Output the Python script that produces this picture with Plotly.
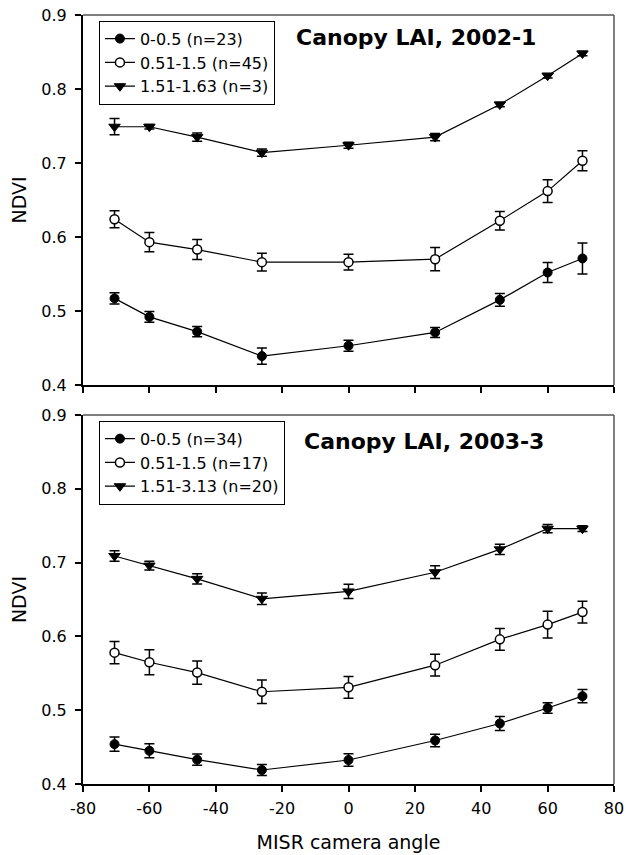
import plotly.graph_objects as go

angles = [-70.5, -60, -45.6, -26.1, 0, 26.1, 45.6, 60, 70.5]

# Panel 1: Canopy LAI, 2002-1
p1_names = ["0-0.5 (n=23)", "0.51-1.5 (n=45)", "1.51-1.63 (n=3)"]
p1_low = [0.517, 0.492, 0.472, 0.439, 0.453, 0.471, 0.515, 0.552, 0.571]
p1_low_err = [0.0077, 0.0074, 0.0070, 0.011, 0.0074, 0.0068, 0.0086, 0.0135, 0.021]
p1_mid = [0.624, 0.593, 0.583, 0.566, 0.566, 0.570, 0.622, 0.662, 0.703]
p1_mid_err = [0.0115, 0.013, 0.0135, 0.012, 0.0106, 0.0158, 0.0124, 0.0153, 0.0135]
p1_high = [0.749, 0.749, 0.735, 0.714, 0.724, 0.735, 0.779, 0.818, 0.848]
p1_high_err = [0.011, 0.003, 0.0055, 0.005, 0.004, 0.005, 0.003, 0.003, 0.003]

# Panel 2: Canopy LAI, 2003-3
p2_names = ["0-0.5 (n=34)", "0.51-1.5 (n=17)", "1.51-3.13 (n=20)"]
p2_low = [0.454, 0.445, 0.433, 0.419, 0.4325, 0.459, 0.482, 0.503, 0.519]
p2_low_err = [0.0097, 0.0095, 0.0075, 0.0075, 0.0086, 0.0084, 0.0095, 0.0072, 0.009]
p2_mid = [0.578, 0.565, 0.551, 0.525, 0.531, 0.561, 0.596, 0.616, 0.633]
p2_mid_err = [0.015, 0.017, 0.0158, 0.016, 0.0147, 0.0147, 0.0147, 0.018, 0.0147]
p2_high = [0.709, 0.696, 0.678, 0.651, 0.661, 0.687, 0.718, 0.746, 0.746]
p2_high_err = [0.0072, 0.006, 0.007, 0.0077, 0.0097, 0.0086, 0.007, 0.0056, 0.004]

panel_titles = ["Canopy LAI, 2002-1", "Canopy LAI, 2003-3"]
x_ticks = [-80, -60, -40, -20, 0, 20, 40, 60, 80]
x_tick_labels = ["-80", "-60", "-40", "-20", "0", "20", "40", "60", "80"]
y_ticks = [0.4, 0.5, 0.6, 0.7, 0.8, 0.9]
y_tick_labels = ["0.4", "0.5", "0.6", "0.7", "0.8", "0.9"]

FONT = "DejaVu Sans"
marker_styles = [
    dict(symbol="circle", size=9, color="black", line=dict(color="black", width=1)),
    dict(symbol="circle", size=9, color="white", line=dict(color="black", width=1.5)),
    dict(symbol="triangle-down", size=10, color="black", line=dict(color="black", width=1)),
]

fig = go.Figure()

panels = [
    (p1_names, [p1_low, p1_mid, p1_high], [p1_low_err, p1_mid_err, p1_high_err], "x", "y", "legend"),
    (p2_names, [p2_low, p2_mid, p2_high], [p2_low_err, p2_mid_err, p2_high_err], "x2", "y2", "legend2"),
]

for names, vals, errs, xa, ya, lg in panels:
    for i in range(3):
        fig.add_trace(go.Scatter(
            x=angles, y=vals[i], name=names[i], mode="lines+markers",
            line=dict(color="black", width=1.2),
            marker=marker_styles[i],
            error_y=dict(type="data", array=errs[i], visible=True, color="black",
                         thickness=1.5, width=5),
            xaxis=xa, yaxis=ya, legend=lg,
        ))

axis_common = dict(
    showline=True, linecolor="black", linewidth=2, ticks="outside", ticklen=6,
    tickwidth=1.5, tickcolor="black", showgrid=False, zeroline=False, automargin=False,
    tickfont=dict(family=FONT, size=16, color="black"),
)

top_dom = [0.5189, 1.0]
bot_dom = [0.0, 0.4798]
title_font = dict(family=FONT, size=19, color="black")

fig.update_layout(
    width=626, height=855,
    margin=dict(l=83, r=12, t=15, b=71, autoexpand=False),
    paper_bgcolor="white", plot_bgcolor="white",
    showlegend=True,
    xaxis=dict(axis_common, range=[-80, 80], tickvals=x_ticks, ticktext=x_tick_labels,
               showticklabels=False, anchor="y", domain=[0, 1]),
    yaxis=dict(axis_common, range=[0.4, 0.9], tickvals=y_ticks, ticktext=y_tick_labels,
               domain=top_dom, anchor="x", ticklabelstandoff=5,
               title=dict(text="NDVI", font=title_font, standoff=10)),
    xaxis2=dict(axis_common, range=[-80, 80], tickvals=x_ticks, ticktext=x_tick_labels,
                anchor="y2", domain=[0, 1], ticklabelstandoff=3,
                title=dict(text="MISR camera angle", font=title_font, standoff=18)),
    yaxis2=dict(axis_common, range=[0.4, 0.9], tickvals=y_ticks, ticktext=y_tick_labels,
                domain=bot_dom, anchor="x2", ticklabelstandoff=5,
                title=dict(text="NDVI", font=title_font, standoff=10)),
    legend=dict(x=0.03, y=0.9926, xanchor="left", yanchor="top", xref="paper", yref="paper",
                bordercolor="black", borderwidth=1, bgcolor="white",
                font=dict(family=FONT, size=16, color="black"), tracegroupgap=0),
    legend2=dict(x=0.03, y=0.4724, xanchor="left", yanchor="top", xref="paper", yref="paper",
                 bordercolor="black", borderwidth=1, bgcolor="white",
                 font=dict(family=FONT, size=16, color="black"), tracegroupgap=0),
)

# top and right frame lines (thin grey)
for xr, yr in [("x domain", "y domain"), ("x2 domain", "y2 domain")]:
    fig.add_shape(type="line", xref=xr, yref=yr, x0=0, x1=1, y0=1, y1=1,
                  line=dict(color="#555555", width=1.5))
    fig.add_shape(type="line", xref=xr, yref=yr, x0=1, x1=1, y0=0, y1=1,
                  line=dict(color="#555555", width=1.5))

fig.add_annotation(text=panel_titles[0], xref="paper", yref="paper", x=0.398, y=0.9707,
                   xanchor="left", yanchor="middle", showarrow=False,
                   font=dict(family=FONT, size=22, color="black", weight="bold"))
fig.add_annotation(text=panel_titles[1], xref="paper", yref="paper", x=0.412, y=0.446,
                   xanchor="left", yanchor="middle", showarrow=False,
                   font=dict(family=FONT, size=22, color="black", weight="bold"))

fig.write_html("out.html", config={"displayModeBar": False},
               post_script="document.body.style.margin='0';document.body.style.overflow='hidden';")
